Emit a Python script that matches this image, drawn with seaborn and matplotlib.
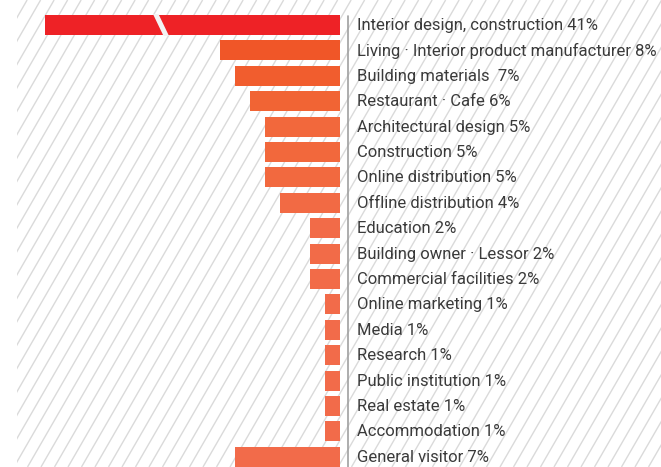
import numpy as np
import pandas as pd
import matplotlib
matplotlib.use("Agg")
import matplotlib.pyplot as plt
from matplotlib.patches import Polygon
import seaborn as sns

categories = [
    "Interior design, construction", "Living · Interior product manufacturer",
    "Building materials ", "Restaurant · Cafe", "Architectural design",
    "Construction", "Online distribution", "Offline distribution", "Education",
    "Building owner · Lessor", "Commercial facilities", "Online marketing",
    "Media", "Research", "Public institution", "Real estate", "Accommodation",
    "General visitor",
]
values = [41, 8, 7, 6, 5, 5, 5, 4, 2, 2, 2, 1, 1, 1, 1, 1, 1, 7]
colors = ["#EE2226", "#F05628", "#F15D2E", "#F16434", "#F2683C", "#F2683C",
          "#F2693F", "#F26A44", "#F26B48", "#F26B48", "#F26B48", "#F26B4A",
          "#F26B4A", "#F26B4A", "#F26B4A", "#F26B4A", "#F26B4A", "#F26B4A"]

CAP = 19.67  # truncated length for the broken first bar

sns.set_theme(style="white")
plt.rcParams["font.family"] = ["Roboto", "DejaVu Sans"]

W, H = 661, 467
fig = plt.figure(figsize=(W / 100, H / 100), dpi=100)
fig.patch.set_facecolor("white")

left = 17
pos = [left / W, 0, (W - left) / W, 1]

# hatched background
bg = fig.add_axes(pos)
bg.set_facecolor("#F3F3F3")
bg.set_xlim(0, W - left)
bg.set_ylim(0, H)
dx = H / np.tan(np.radians(60))
for x0 in np.arange(-300, W, 13.5):
    bg.plot([x0, x0 + dx], [0, H], color="#DADADA", lw=1.0, solid_capstyle="butt")
bg.axis("off")
bg.patch.set_visible(True)

ax = fig.add_axes(pos)
ax.patch.set_alpha(0)

df = pd.DataFrame({
    "cat": categories,
    "shown": [-min(v, CAP) for v in values],
})
sns.barplot(data=df, x="shown", y="cat", hue="cat", palette=colors,
            orient="h", width=0.79, legend=False, ax=ax, saturation=1,
            linewidth=0)

px = 15.0  # pixels per percent
ax.set_xlim((left - 340) / px, (W - 340) / px)
ax.set_ylim(17.40, -0.984)

# break mark on the first bar
ax.add_patch(Polygon([[(153 - 340) / px, -0.43], [(158.5 - 340) / px, -0.43],
                      [(169 - 340) / px, 0.43], [(163.5 - 340) / px, 0.43]],
                     closed=True, facecolor="#F3F3F3", edgecolor="none", zorder=5))

# vertical axis line
ax.plot([8 / px, 8 / px], [-0.35, 17.6], color="#A0A0A0", lw=1.2, zorder=4,
        clip_on=False)

texts = []
for i, (c, v) in enumerate(zip(categories, values)):
    texts.append(ax.text(17 / px, i + 0.02, f"{c} {v}%", ha="left", va="center",
                         fontsize=11.5, color="#3A3A3A"))

# fit the longest label to the reference width (~303 px)
fig.canvas.draw()
r = fig.canvas.get_renderer()
wmax = max(t.get_window_extent(r).width for t in texts)
scale = 302.0 / wmax
for t in texts:
    t.set_fontsize(11.5 * scale)

ax.axis("off")
fig.savefig("out.png", dpi=100)
